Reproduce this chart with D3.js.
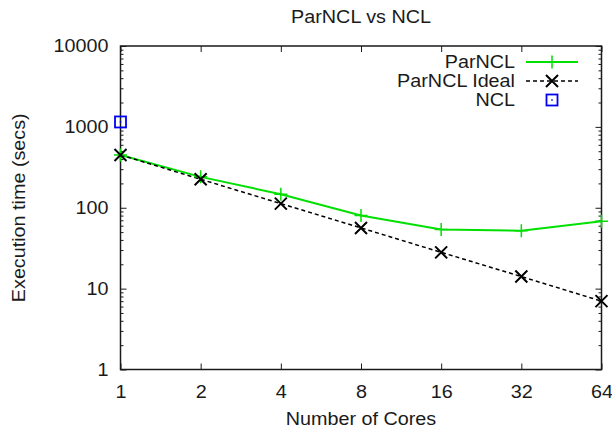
<!DOCTYPE html>
<html>
<head>
<meta charset="utf-8">
<script src="https://d3js.org/d3.v7.min.js"></script>
<style>
  body { margin: 0; background: #fff; }
  text { font-family: "Liberation Sans", Arial, sans-serif; fill: #1a1a1a; }
</style>
</head>
<body>
<div id="my_dataviz"></div>
<script>
var margin = {top: 46, right: 10.5, bottom: 58.5, left: 120.5},
    totalWidth = 612,
    totalHeight = 428,
    width = totalWidth - margin.left - margin.right,
    height = totalHeight - margin.top - margin.bottom,
    stretch = 1.13,   // the reference glyphs are a bit wider than Arial
    fontSize = 17.5;

// data
var cores = [1, 2, 4, 8, 16, 32, 64];
var parncl = [450, 241, 147, 80, 54, 52, 68];
var parnclIdeal = [450, 225, 112.5, 56.3, 28.1, 14.1, 7.0];
var nclCores = [1];
var ncl = [1150];
var yTicks = [1, 10, 100, 1000, 10000];
var seriesNames = ["ParNCL", "ParNCL Ideal", "NCL"];

var svg = d3.select("#my_dataviz")
    .append("svg")
    .attr("width", totalWidth)
    .attr("height", totalHeight)
    .append("g")
    .attr("transform", `translate(${margin.left},${margin.top})`);

const x = d3.scaleLog().base(2)
    .domain([1, 64])
    .range([0, width]);

const y = d3.scaleLog()
    .domain([1, 10000])
    .range([height, 0]);

// minor y ticks 2..9 per decade
var yMinor = [];
yTicks.slice(0, -1).forEach(function(d) {
    for (var k = 2; k <= 9; k++) yMinor.push(d * k);
});

function styleAxis(g) {
    g.select(".domain").remove();
    g.selectAll("line").attr("stroke", "#1a1a1a").attr("stroke-width", 1);
}

// put a stretched label at (tx,ty)
function label(g, tx, ty, str, anchor, rot) {
    return g.append("text")
        .attr("transform", `translate(${tx},${ty})` + (rot ? ` rotate(${rot})` : "") + ` scale(${stretch},1)`)
        .attr("text-anchor", anchor)
        .attr("font-size", fontSize)
        .text(str);
}

// bottom axis, ticks pointing inward
svg.append("g")
    .attr("transform", `translate(0,${height})`)
    .call(d3.axisBottom(x).tickValues(cores).tickFormat(d3.format("d")).tickSize(-6))
    .call(styleAxis)
    .selectAll("text")
    .attr("x", null).attr("y", null).attr("dy", "0.35em")
    .attr("font-size", fontSize)
    .attr("transform", `translate(0,22) scale(${stretch},1)`);

// top mirror ticks
svg.append("g")
    .call(d3.axisTop(x).tickValues(cores).tickFormat("").tickSize(-6))
    .call(styleAxis);

// left axis
svg.append("g")
    .call(d3.axisLeft(y).tickValues(yTicks).tickFormat(d3.format("d")).tickSize(-6))
    .call(styleAxis)
    .selectAll("text")
    .attr("x", null)
    .attr("font-size", fontSize)
    .attr("transform", `translate(-12,0) scale(${stretch},1)`);

svg.append("g")
    .call(d3.axisLeft(y).tickValues(yMinor).tickFormat("").tickSize(-3))
    .call(styleAxis);

// right mirror ticks
svg.append("g")
    .attr("transform", `translate(${width},0)`)
    .call(d3.axisRight(y).tickValues(yTicks).tickFormat("").tickSize(-6))
    .call(styleAxis);

svg.append("g")
    .attr("transform", `translate(${width},0)`)
    .call(d3.axisRight(y).tickValues(yMinor).tickFormat("").tickSize(-3))
    .call(styleAxis);

// border
svg.append("rect")
    .attr("width", width)
    .attr("height", height)
    .attr("fill", "none")
    .attr("stroke", "#1a1a1a")
    .attr("stroke-width", 1.5);

// lines
var line = d3.line()
    .x(function(d) { return x(d[0]); })
    .y(function(d) { return y(d[1]); });

svg.append("path")
    .datum(d3.zip(cores, parncl))
    .attr("fill", "none")
    .attr("stroke", "#00e000")
    .attr("stroke-width", 2)
    .attr("d", line);

svg.append("path")
    .datum(d3.zip(cores, parnclIdeal))
    .attr("fill", "none")
    .attr("stroke", "#000")
    .attr("stroke-width", 1.5)
    .attr("stroke-dasharray", "4,3")
    .attr("d", line);

// markers
function plus(g, cx, cy) {
    g.append("path")
        .attr("d", `M${cx - 6.5},${cy}H${cx + 6.5}M${cx},${cy - 6.5}V${cy + 6.5}`)
        .attr("stroke", "#00e000")
        .attr("stroke-width", 1.5)
        .attr("fill", "none");
}
function cross(g, cx, cy) {
    g.append("path")
        .attr("d", `M${cx - 6},${cy - 6}L${cx + 6},${cy + 6}M${cx - 6},${cy + 6}L${cx + 6},${cy - 6}`)
        .attr("stroke", "#000")
        .attr("stroke-width", 2)
        .attr("fill", "none");
}
function box(g, cx, cy) {
    g.append("rect")
        .attr("x", cx - 5.5).attr("y", cy - 5.5)
        .attr("width", 11).attr("height", 11)
        .attr("fill", "none")
        .attr("stroke", "#0000f0")
        .attr("stroke-width", 1.8);
    g.append("rect")
        .attr("x", cx - 0.75).attr("y", cy - 0.75)
        .attr("width", 1.5).attr("height", 1.5)
        .attr("fill", "#0000f0");
}

var marks = svg.append("g");
cores.forEach(function(c, i) { plus(marks, x(c), y(parncl[i])); });
cores.forEach(function(c, i) { cross(marks, x(c), y(parnclIdeal[i])); });
nclCores.forEach(function(c, i) { box(marks, x(c), y(ncl[i])); });

// legend
var legend = svg.append("g").attr("transform", "translate(394.5,16)");
var swatches = [plus, cross, box];
seriesNames.forEach(function(name, i) {
    var ly = i * 19;
    label(legend, 0, ly, name, "end").attr("dy", "0.35em");
    if (i === 0) {
        legend.append("line").attr("x1", 11).attr("x2", 63).attr("y1", ly).attr("y2", ly)
            .attr("stroke", "#00e000").attr("stroke-width", 2);
    } else if (i === 1) {
        legend.append("line").attr("x1", 11).attr("x2", 63).attr("y1", ly).attr("y2", ly)
            .attr("stroke", "#000").attr("stroke-width", 1.5).attr("stroke-dasharray", "4,3");
    }
    swatches[i](legend, 37, ly);
});

// title and axis labels
label(svg, width / 2, -23, "ParNCL vs NCL", "middle");
label(svg, width / 2, height + 55, "Number of Cores", "middle");
label(svg, -margin.left + 25, height / 2, "Execution time (secs)", "middle", -90);
</script>
</body>
</html>
